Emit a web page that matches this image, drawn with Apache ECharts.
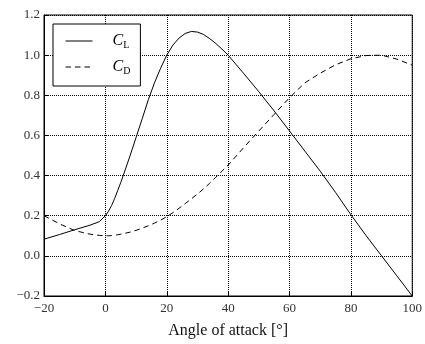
<!DOCTYPE html>
<html>
<head>
<meta charset="utf-8">
<script src="https://cdn.jsdelivr.net/npm/echarts@6/dist/echarts.min.js"></script>
<style>
  html, body { margin: 0; padding: 0; background: #fff; }
  #chart { width: 425px; height: 344px; }
</style>
</head>
<body>
<div id="chart"></div>
<script>
// angle of attack (deg)
var angle = [-20, -15, -10, -5, -2, 0, 1, 2, 3, 4, 5, 6, 8, 10, 12, 14, 16, 18, 20, 22, 24,
  26, 28, 30, 32, 34, 36, 38, 40, 45, 50, 55, 60, 65, 70, 75, 80, 85, 90, 95, 100];

// lift coefficient
var cl = [0.083, 0.106, 0.130, 0.153, 0.170, 0.200, 0.222, 0.250, 0.285, 0.325, 0.365, 0.408,
  0.497, 0.590, 0.683, 0.778, 0.862, 0.935, 1.000, 1.050, 1.085, 1.108, 1.118, 1.115, 1.103,
  1.082, 1.058, 1.030, 1.000, 0.910, 0.818, 0.722, 0.622, 0.522, 0.422, 0.316, 0.205, 0.100,
  0.000, -0.100, -0.200];

// drag coefficient
var cd = [0.200, 0.160, 0.126, 0.108, 0.102, 0.100, 0.100, 0.101, 0.103, 0.105, 0.108, 0.111,
  0.118, 0.127, 0.138, 0.150, 0.163, 0.178, 0.195, 0.215, 0.237, 0.260, 0.284, 0.308, 0.334,
  0.362, 0.392, 0.422, 0.452, 0.538, 0.622, 0.705, 0.788, 0.862, 0.910, 0.952, 0.982, 0.998,
  1.000, 0.980, 0.950];

var xTicks = [-20, 0, 20, 40, 60, 80, 100];
var yTicks = [-0.2, 0.0, 0.2, 0.4, 0.6, 0.8, 1.0, 1.2];

function pairs(xs, ys) {
  return xs.map(function (x, i) { return [x, ys[i]]; });
}
function minus(s) { return s.replace('-', '\u2212'); }

var font = '"Liberation Serif", "DejaVu Serif", serif';

var chart = echarts.init(document.getElementById('chart'));

var gridLine = { show: true, lineStyle: { color: '#000', width: 1, type: [1, 1] } };

var option = {
  animation: false,
  color: ['#000', '#000'],
  grid: { left: 44, right: 7, top: 15, bottom: 39, show: true, borderColor: '#000', borderWidth: 1 },
  legend: {
    orient: 'vertical',
    left: 53,
    top: 24,
    padding: [9, 10, 10, 12],
    itemWidth: 27,
    itemHeight: 14,
    itemGap: 9,
    borderColor: '#000',
    borderWidth: 1,
    backgroundColor: '#fff',
    itemStyle: { opacity: 0 },
    lineStyle: { width: 1 },
    data: ['CL', 'CD'],
    formatter: function (n) { return '{c|C}{s|' + n.slice(1) + '}'; },
    textStyle: {
      rich: {
        c: { fontFamily: font, fontStyle: 'italic', fontSize: 16, color: '#000', padding: [0, 0, 0, 15] },
        s: { fontFamily: font, fontSize: 10, color: '#000', padding: [8, 0, 0, 0] }
      }
    }
  },
  xAxis: {
    type: 'value',
    min: xTicks[0],
    max: xTicks[xTicks.length - 1],
    interval: 20,
    name: 'Angle of attack [\u00b0]',
    nameLocation: 'middle',
    nameGap: 27,
    nameTextStyle: { fontFamily: font, fontSize: 16, color: '#111' },
    axisLine: { onZero: false, lineStyle: { color: '#000', width: 1 } },
    axisTick: { inside: true, length: 4, lineStyle: { color: '#000' } },
    axisLabel: {
      margin: 6, fontFamily: font, fontSize: 13, color: '#333',
      formatter: function (v) { return minus(String(v)); }
    },
    splitLine: gridLine
  },
  yAxis: {
    type: 'value',
    min: yTicks[0],
    max: yTicks[yTicks.length - 1],
    interval: 0.2,
    axisLine: { show: true, onZero: false, lineStyle: { color: '#000', width: 1 } },
    axisTick: { show: true, inside: true, length: 4, lineStyle: { color: '#000' } },
    axisLabel: {
      margin: 4, fontFamily: font, fontSize: 13, color: '#333',
      formatter: function (v) { return minus(v.toFixed(1)); }
    },
    splitLine: gridLine
  },
  series: [
    {
      name: 'CL',
      type: 'line',
      symbol: 'none',
      data: pairs(angle, cl),
      itemStyle: { color: '#000' },
      lineStyle: { color: '#000', width: 1 }
    },
    {
      name: 'CD',
      type: 'line',
      symbol: 'none',
      data: pairs(angle, cd),
      itemStyle: { color: '#000' },
      lineStyle: { color: '#000', width: 1, type: [5.5, 4] }
    }
  ]
};

chart.setOption(option);
</script>
</body>
</html>
